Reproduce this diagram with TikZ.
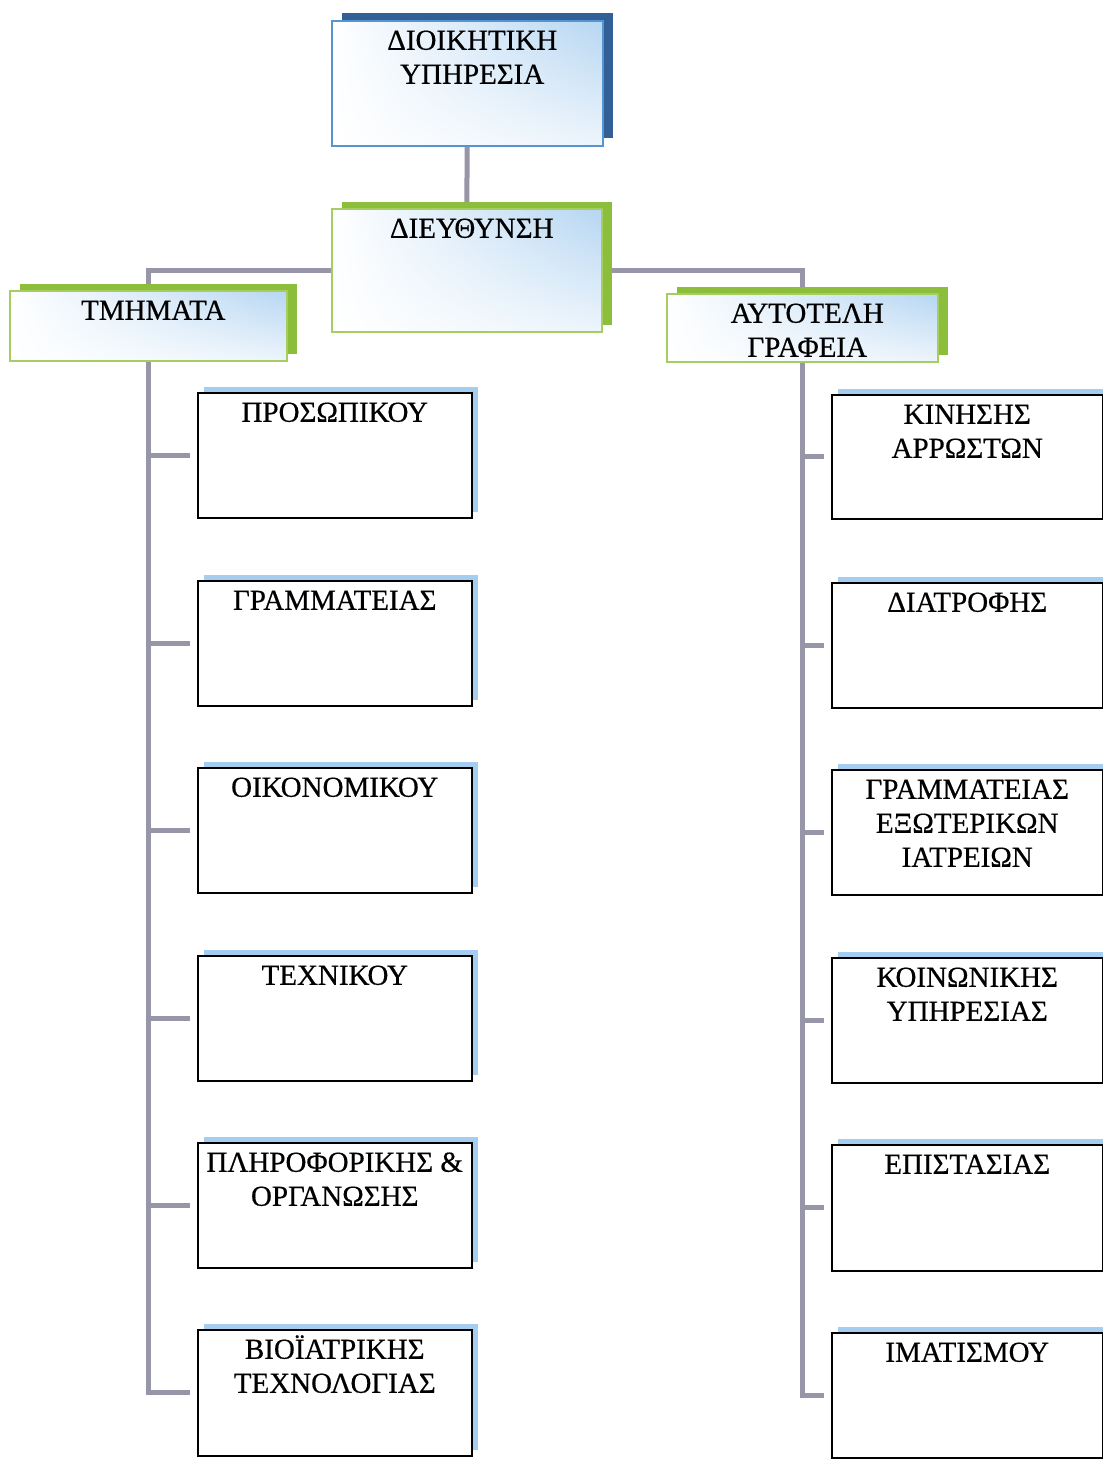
\documentclass[tikz,border=0pt]{standalone}
\usepackage{fontspec}
\setmainfont[FakeBold=0.5]{Liberation Serif}
\usetikzlibrary{shadows,shadings,backgrounds}

\definecolor{conncol}{RGB}{150,150,168}
\definecolor{darkshadowblue}{RGB}{50,95,150}
\definecolor{blueborder}{RGB}{85,150,210}
\definecolor{greenshadow}{RGB}{140,190,60}
\definecolor{greenborder}{RGB}{165,205,95}
\definecolor{gradblue}{RGB}{182,214,242}
\definecolor{childshadow}{RGB}{165,205,240}

% box text: width, height, text (centred)
\newcommand{\bx}[3]{\parbox[t][#2][t]{#1}{\fontsize{29}{34}\selectfont\centering\rule{0pt}{29pt}#3\par}}
% same, text shifted slightly right (upper levels)
\newcommand{\bxs}[3]{\parbox[t][#2][t]{#1}{\fontsize{29}{34}\selectfont\centering\leftskip=0pt plus 1fil\relax\hskip0pt\leftskip=10pt plus 1fil\rule{0pt}{29pt}#3\par}}

\begin{document}
\begin{tikzpicture}[x=1pt,y=-1pt,
  boxbase/.style={inner sep=0pt, line width=1.5pt, anchor=north west},
  gradfill/.style={upper left=white, lower left=white, upper right=gradblue, lower right=gradblue!25!white},
  topbox/.style={boxbase, draw=blueborder, gradfill,
     general shadow={fill=darkshadowblue, shadow xshift=10pt, shadow yshift=8pt}},
  greenbox/.style={boxbase, draw=greenborder, gradfill,
     general shadow={fill=greenshadow, shadow xshift=10pt, shadow yshift=7pt}},
  childbox/.style={boxbase, draw=black, fill=white,
     general shadow={fill=childshadow, shadow xshift=6pt, shadow yshift=6pt}},
  conn/.style={draw=conncol, line width=5pt, line join=miter},
  tick/.style={conn, shorten >=7pt}
]
\useasboundingbox (0,0) rectangle (1103,1460);

% upper levels
\node[topbox]   (adm) at (331,20)  {\bxs{271pt}{125pt}{ΔΙΟΙΚΗΤΙΚΗ\\ΥΠΗΡΕΣΙΑ}};
\node[greenbox] (dir) at (331,208) {\bxs{270pt}{123pt}{ΔΙΕΥΘΥΝΣΗ}};
\node[greenbox] (tm)  at (9,290)   {\bxs{277pt}{70pt}{ΤΜΗΜΑΤΑ}};
\node[greenbox] (aut) at (666,293) {\bxs{271pt}{68pt}{ΑΥΤΟΤΕΛΗ\\ΓΡΑΦΕΙΑ}};

% left children
\node[childbox] (l1) at (197,392)  {\bx{274pt}{125pt}{ΠΡΟΣΩΠΙΚΟΥ}};
\node[childbox] (l2) at (197,580)  {\bx{274pt}{125pt}{ΓΡΑΜΜΑΤΕΙΑΣ}};
\node[childbox] (l3) at (197,767)  {\bx{274pt}{125pt}{ΟΙΚΟΝΟΜΙΚΟΥ}};
\node[childbox] (l4) at (197,955)  {\bx{274pt}{125pt}{ΤΕΧΝΙΚΟΥ}};
\node[childbox] (l5) at (197,1142) {\bx{274pt}{125pt}{ΠΛΗΡΟΦΟΡΙΚΗΣ \&\\ΟΡΓΑΝΩΣΗΣ}};
\node[childbox] (l6) at (197,1329) {\bx{274pt}{126pt}{ΒΙΟΪΑΤΡΙΚΗΣ\\ΤΕΧΝΟΛΟΓΙΑΣ}};

% right children
\node[childbox] (r1) at (831,394)  {\bx{271pt}{124pt}{ΚΙΝΗΣΗΣ\\ΑΡΡΩΣΤΩΝ}};
\node[childbox] (r2) at (831,582)  {\bx{271pt}{125pt}{ΔΙΑΤΡΟΦΗΣ}};
\node[childbox] (r3) at (831,769)  {\bx{271pt}{125pt}{ΓΡΑΜΜΑΤΕΙΑΣ\\ΕΞΩΤΕΡΙΚΩΝ\\ΙΑΤΡΕΙΩΝ}};
\node[childbox] (r4) at (831,957)  {\bx{271pt}{125pt}{ΚΟΙΝΩΝΙΚΗΣ\\ΥΠΗΡΕΣΙΑΣ}};
\node[childbox] (r5) at (831,1144) {\bx{271pt}{126pt}{ΕΠΙΣΤΑΣΙΑΣ}};
\node[childbox] (r6) at (831,1332) {\bx{271pt}{125pt}{ΙΜΑΤΙΣΜΟΥ}};

\begin{scope}[on background layer]
  \fill[white] (0,0) rectangle (1103,1460);
  \draw[conn] (adm.south) -- (dir.north);
  \draw[conn] (dir.west) -| (tm.north);
  \draw[conn] (dir.east) -| (aut.north);
  \draw[tick] (tm.south) |- (l6.west);
  \foreach \n in {l1,l2,l3,l4,l5}
    \draw[tick] (tm.south |- \n.west) -- (\n.west);
  \draw[tick] (aut.south) |- (r6.west);
  \foreach \n in {r1,r2,r3,r4,r5}
    \draw[tick] (aut.south |- \n.west) -- (\n.west);
\end{scope}
\end{tikzpicture}
\end{document}
